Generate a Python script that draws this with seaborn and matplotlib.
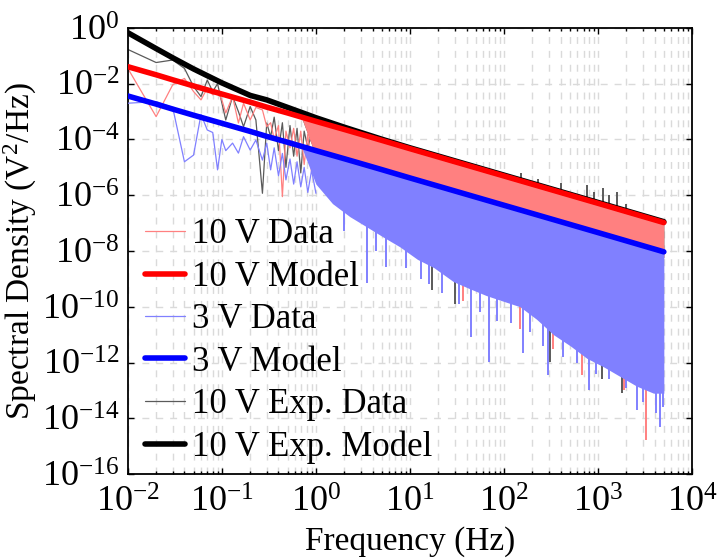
import numpy as np
import matplotlib
matplotlib.use("Agg")
import matplotlib.pyplot as plt
import seaborn as sns

# low frequency part of the spectra (Hz), values are log10(V^2/Hz)
f_low = [0.01, 0.02, 0.03, 0.04, 0.05, 0.06, 0.07, 0.08, 0.09, 0.10, 0.11, 0.13, 0.15, 0.17, 0.20,
         0.23, 0.27, 0.30, 0.33, 0.36, 0.40, 0.44, 0.48, 0.53, 0.58, 0.63, 0.69, 0.75, 0.82, 0.90, 1.00]
red_low = [-1.45, -3.18, -2.04, -1.81, -2.28, -2.58, -2.16, -2.40, -2.28, -2.58, -3.05, -2.46, -3.41, -2.70, -3.30,
           -2.85, -2.94, -3.54, -3.40, -4.00, -3.50, -6.05, -3.70, -4.30, -3.60, -4.60, -3.70, -4.90, -3.80, -5.20, -3.90]
blue_low = [-2.70, -2.64, -2.85, -4.80, -4.56, -3.10, -3.66, -3.75, -5.09, -4.00, -4.40, -4.13, -4.49, -3.90, -4.38,
            -4.02, -4.74, -4.13, -5.09, -4.30, -5.30, -4.50, -5.45, -4.70, -5.60, -4.80, -5.70, -5.00, -5.90, -5.10, -5.93]
gray_low = [-0.77, -1.24, -1.15, -1.45, -2.10, -2.46, -1.87, -2.28, -2.00, -2.69, -3.30, -2.46, -3.00, -3.54, -2.82,
            -3.30, -5.93, -3.41, -3.90, -3.20, -4.40, -3.40, -5.00, -3.50, -4.60, -3.60, -5.20, -3.70, -4.30, -3.80, -4.70]

# dense part of the spectra (0.7 Hz .. 5 kHz): edges of each band, log10
f_band = [0.7, 1.0, 1.5, 2.3, 3.45, 5.2, 7.8, 12, 18, 29, 43, 65, 98, 148, 222, 335, 505, 760, 1137, 1713, 2580, 3880, 5000]
red_top = [-3.20, -3.35, -3.52, -3.70, -3.88, -4.05, -4.22, -4.41, -4.58, -4.78, -4.95, -5.13, -5.30, -5.48, -5.65, -5.82,
           -6.00, -6.17, -6.35, -6.52, -6.69, -6.87, -6.98]
red_bot = [-3.20, -4.60, -4.77, -4.95, -5.13, -5.30, -5.47, -5.66, -5.83, -6.03, -6.20, -6.38, -6.55, -6.73, -6.90, -7.07,
           -7.25, -7.42, -7.60, -7.77, -7.94, -8.12, -8.23]
gray_top = [-3.20, -3.27, -3.44, -3.62, -3.80, -3.97, -4.14, -4.33, -4.50, -4.70, -4.87, -5.05, -5.22, -5.40, -5.57, -5.74,
            -5.92, -6.09, -6.27, -6.44, -6.61, -6.79, -6.90]
blue_top = [-4.25, -4.40, -4.57, -4.75, -4.93, -5.10, -5.27, -5.46, -5.63, -5.83, -6.00, -6.18, -6.35, -6.53, -6.70, -6.87,
            -7.05, -7.22, -7.40, -7.57, -7.74, -7.92, -8.03]
blue_bot = [-4.25, -5.60, -6.30, -6.77, -7.13, -7.50, -7.85, -8.30, -8.60, -9.10, -9.35, -9.60, -9.80, -10.00, -10.45, -11.00,
            -11.40, -11.85, -12.15, -12.50, -12.85, -13.10, -13.10]

# single spikes sticking out of the bands: frequency, far end, near end (log10)
blue_spk_f = [2.0, 3.5, 4.3, 5.5, 9, 13, 16, 22, 33, 45, 55, 70, 85, 120, 160, 190, 260, 290, 420, 600,
              800, 950, 1300, 2000, 2600, 3000, 4100, 4500, 4900]
blue_spk_lo = [-7.3, -9.16, -8.0, -8.56, -8.6, -9.0, -9.2, -9.5, -9.9, -11.07, -10.2, -11.97, -10.5, -10.6, -11.67, -10.9,
               -11.4, -12.45, -11.8, -12.0, -12.99, -12.4, -12.6, -12.9, -13.7, -13.4, -13.8, -14.3, -13.6]
blue_spk_hi = [-6.3, -6.85, -7.0, -7.25, -7.7, -8.05, -8.2, -8.5, -8.9, -9.1, -9.2, -9.35, -9.4, -9.6, -9.8, -10.0,
               -10.35, -10.5, -10.9, -11.3, -11.6, -11.7, -11.95, -12.3, -12.55, -12.65, -12.8, -12.8, -12.8]
red_spk_f = [37, 148, 330, 670, 1900, 3240]
red_spk_lo = [-9.8, -10.8, -11.5, -12.45, -13.0, -14.78]
red_spk_hi = [-9.0, -9.7, -10.7, -11.4, -12.2, -12.7]
gray_spk_f = [17, 30, 310, 1100, 1780, 150, 230, 400, 760, 900, 1140, 1300, 1600, 2000]
gray_spk_lo = [-9.4, -9.9, -11.97, -12.6, -13.1, -5.5, -5.7, -5.9, -6.2, -6.3, -6.35, -6.4, -6.5, -6.6]
gray_spk_hi = [-8.3, -8.8, -10.7, -11.9, -12.3, -5.2, -5.4, -5.55, -5.65, -5.9, -5.75, -6.0, -5.9, -6.3]

# fitted models, log10
f_model = [0.01, 0.02, 0.03, 0.05, 0.1, 0.2, 0.3, 0.5, 1, 2, 5, 10, 100, 1000, 5000]
red_model = [-1.39, -1.68, -1.86, -2.08, -2.37, -2.66, -2.84, -3.05, -3.35, -3.64, -4.03, -4.33, -5.31, -6.29, -6.98]
blue_model = [-2.44, -2.73, -2.91, -3.13, -3.42, -3.71, -3.89, -4.10, -4.40, -4.69, -5.08, -5.38, -6.36, -7.34, -8.03]
black_model = [-0.17, -0.74, -1.07, -1.47, -1.97, -2.42, -2.58, -2.85, -3.22, -3.56, -3.99, -4.30, -5.28, -6.26, -6.95]

labels = ["10 V Data", "10 V Model", "3 V Data", "3 V Model", "10 V Exp. Data", "10 V Exp. Model"]

c_red, c_blue, c_gray = "#ff8080", "#8080ff", "#5a5a5a"

sns.set_style("ticks")
plt.rcParams["font.family"] = ["Liberation Serif", "DejaVu Serif"]
plt.rcParams["mathtext.fontset"] = "custom"
plt.rcParams["mathtext.rm"] = "Liberation Serif"
plt.rcParams["mathtext.it"] = "Liberation Serif:italic"
plt.rcParams["text.color"] = "black"
plt.rcParams["axes.labelcolor"] = "black"
plt.rcParams["xtick.color"] = "black"
plt.rcParams["ytick.color"] = "black"

p = lambda v: 10 ** np.array(v)

fig = plt.figure(figsize=(7.18, 5.59), dpi=100)
ax = fig.add_axes([0.178, 0.152, 0.786, 0.798])
ax.set_xscale("log")
ax.set_yscale("log")

# 10 V exp. data (behind everything)
ax.fill_between(f_band, p(red_bot), p(gray_top), color=c_gray, lw=0, zorder=1)
ax.vlines(gray_spk_f, p(gray_spk_lo), p(gray_spk_hi), color=c_gray, lw=1.4, zorder=1)
sns.lineplot(x=f_low, y=p(gray_low), ax=ax, color=c_gray, lw=0.9, estimator=None, sort=False,
             label=labels[4], zorder=1)
# 10 V data
ax.fill_between(f_band, p(red_bot), p(red_top), color=c_red, lw=0, zorder=2)
ax.vlines(red_spk_f, p(red_spk_lo), p(red_spk_hi), color=c_red, lw=1.4, zorder=2)
sns.lineplot(x=f_low, y=p(red_low), ax=ax, color=c_red, lw=0.9, estimator=None, sort=False,
             label=labels[0], zorder=2)
# 3 V data
ax.fill_between(f_band, p(blue_bot), p(blue_top), color=c_blue, lw=0, zorder=3)
ax.vlines(blue_spk_f, p(blue_spk_lo), p(blue_spk_hi), color=c_blue, lw=1.4, zorder=3)
sns.lineplot(x=f_low, y=p(blue_low), ax=ax, color=c_blue, lw=0.9, estimator=None, sort=False,
             label=labels[2], zorder=3)

sns.lineplot(x=f_model, y=p(black_model), ax=ax, color="black", lw=4, estimator=None, sort=False,
             label=labels[5], zorder=4)
sns.lineplot(x=f_model, y=p(red_model), ax=ax, color="red", lw=4, estimator=None, sort=False,
             label=labels[1], zorder=5)
sns.lineplot(x=f_model, y=p(blue_model), ax=ax, color="blue", lw=4, estimator=None, sort=False,
             label=labels[3], zorder=6)

ax.set_xlim(1e-2, 1e4)
ax.set_ylim(1e-16, 1e0)
ax.set_yticks([10.0 ** k for k in range(0, -17, -2)])
ax.yaxis.set_minor_locator(matplotlib.ticker.NullLocator())
ax.set_xticks([10.0 ** k for k in range(-2, 5)])
ax.xaxis.set_minor_locator(matplotlib.ticker.LogLocator(base=10, subs=np.arange(2, 10), numticks=20))

ax.grid(True, which="major", axis="both", color="#dadada", ls=(0, (5, 5)), lw=1)
ax.grid(True, which="minor", axis="x", color="#dadada", ls=(0, (5, 5)), lw=1)
ax.set_axisbelow(True)

ax.tick_params(which="both", direction="in", top=True, right=True, labelsize=26, width=1)
ax.tick_params(which="major", length=4)
ax.tick_params(which="minor", length=2.5)
ax.tick_params(axis="x", which="major", pad=9)
ax.tick_params(axis="y", which="major", pad=6)
for s in ax.spines.values():
    s.set_linewidth(1.3)
    s.set_color("black")

ax.set_xlabel("Frequency (Hz)", fontsize=24, labelpad=5)
ax.set_ylabel("Spectral Density (V$^2$/Hz)", fontsize=24, labelpad=2)

h, l = ax.get_legend_handles_labels()
order = [l.index(s) for s in labels]
ax.legend([h[i] for i in order], labels, loc="center left", bbox_to_anchor=(0.03, 0.298),
          frameon=False, fontsize=25, handlelength=1.15, handletextpad=0.2, labelspacing=0.27,
          borderpad=0, borderaxespad=0)

fig.savefig("out.png", dpi=100)
